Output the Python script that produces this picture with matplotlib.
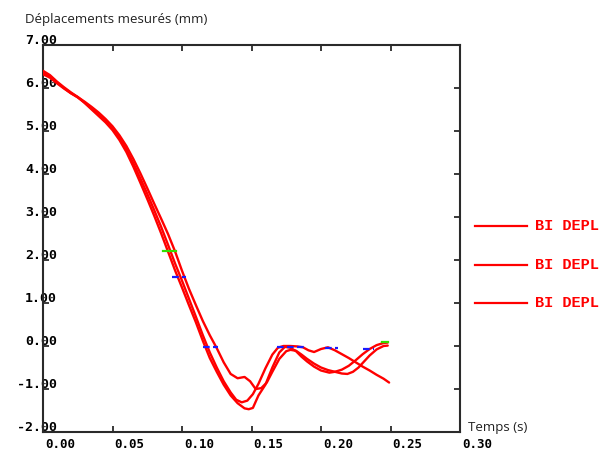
import matplotlib
matplotlib.use("Agg")
import matplotlib.pyplot as plt
from matplotlib.transforms import ScaledTranslation
from matplotlib.lines import Line2D
from matplotlib.ticker import FuncFormatter

# ---------------- data ----------------
title_text = "Déplacements mesurés (mm)"
xlabel_text = "Temps (s)"
legend_labels = ["BI DEPL", "BI DEPL", "BI DEPL"]

a_t = [0, .005, .01, .015, .02, .025, .03, .035, .04, .045, .05, .055, .06, .065, .07, .075,
       .08, .085, .09, .095, .10, .105, .11, .115, .12, .125, .13, .135, .14, .145, .148, .151,
       .155, .16, .165, .17, .174, .178, .182, .186, .19, .195, .2, .206, .21, .215, .22, .225,
       .23, .235, .24, .245, .248]
a_v = [6.40, 6.30, 6.15, 6.02, 5.90, 5.79, 5.65, 5.50, 5.35, 5.20, 5.02, 4.79, 4.51, 4.17, 3.80,
       3.42, 3.03, 2.62, 2.19, 1.76, 1.36, 0.95, 0.55, 0.12, -0.28, -0.6, -0.9, -1.15, -1.33,
       -1.45, -1.47, -1.44, -1.15, -0.9, -0.5, -0.15, -0.02, -0.04, -0.12, -0.25, -0.36, -0.48,
       -0.57, -0.62, -0.6, -0.55, -0.46, -0.33, -0.19, -0.07, 0.02, 0.07, 0.08]

b_t = [0, .005, .01, .015, .02, .025, .03, .035, .04, .045, .05, .055, .06, .065, .07, .075,
       .08, .085, .09, .095, .10, .105, .11, .115, .12, .125, .13, .135, .139, .143, .147, .151,
       .155, .16, .165, .169, .173, .178, .183, .187, .191, .195, .2, .205, .21, .215, .22, .225,
       .23, .235, .24, .245, .249]
b_v = [6.36, 6.27, 6.13, 6.00, 5.88, 5.78, 5.66, 5.52, 5.38, 5.23, 5.06, 4.84, 4.57, 4.25, 3.90,
       3.54, 3.16, 2.77, 2.35, 1.92, 1.52, 1.10, 0.68, 0.25, -0.15, -0.5, -0.82, -1.08, -1.25,
       -1.31, -1.27, -1.12, -0.88, -0.52, -0.2, -0.04, 0.0, 0.0, -0.01, -0.03, -0.1, -0.14,
       -0.07, -0.03, -0.1, -0.19, -0.28, -0.38, -0.48, -0.57, -0.67, -0.76, -0.85]

c_t = [0, .005, .01, .015, .02, .025, .03, .035, .04, .045, .05, .055, .06, .065, .07, .075,
       .08, .085, .09, .095, .1, .105, .11, .115, .12, .125, .13, .135, .14, .145, .149, .153,
       .157, .161, .165, .17, .175, .178, .182, .186, .19, .195, .2, .205, .21, .215, .219,
       .223, .227, .231, .235, .24, .245, .248]
c_v = [6.32, 6.24, 6.11, 5.99, 5.88, 5.79, 5.68, 5.56, 5.43, 5.28, 5.11, 4.90, 4.65, 4.35, 4.02,
       3.67, 3.31, 2.96, 2.6, 2.2, 1.75, 1.33, 0.95, 0.58, 0.25, -0.05, -0.38, -0.65, -0.75,
       -0.72, -0.82, -1.0, -0.98, -0.85, -0.6, -0.3, -0.12, -0.09, -0.11, -0.2, -0.3, -0.41,
       -0.5, -0.56, -0.6, -0.64, -0.65, -0.6, -0.5, -0.36, -0.22, -0.08, 0.0, 0.01]

# small marker dashes seen on the chart: (t_start, t_end, value)
blue_marks = [(0.0926, 0.1026, 1.61), (0.1150, 0.1260, -0.02), (0.1680, 0.1900, -0.02),
              (0.2030, 0.2120, -0.04), (0.2300, 0.2380, -0.06)]
green_marks = [(0.0860, 0.0960, 2.22), (0.2440, 0.2480, 0.10)]

x_ticks = [0.0, 0.05, 0.10, 0.15, 0.20, 0.25, 0.30]
y_ticks = [-2, -1, 0, 1, 2, 3, 4, 5, 6, 7]

# ---------------- figure ----------------
W, H = 610, 450
fig = plt.figure(figsize=(W / 100, H / 100), dpi=100)
L, R, T, B = 43, 460, 45, 432
ax = fig.add_axes([L / W, 1 - B / H, (R - L) / W, (B - T) / H])

red = "#ff0000"
for tt, vv in ((a_t, a_v), (b_t, b_v), (c_t, c_v)):
    ax.plot(tt, vv, color=red, lw=1.7, solid_capstyle="round", zorder=3)

for t0, t1, v in blue_marks:
    ax.plot([t0, t1], [v, v], color="#1a1aff", lw=1.6, ls=(0, (3, 1.5)), zorder=4)
for t0, t1, v in green_marks:
    ax.plot([t0, t1], [v, v], color="#33dd00", lw=1.6, zorder=4)

ax.set_xlim(0, 0.30)
ax.set_ylim(-2, 7)
ax.set_xticks(x_ticks)
ax.set_yticks(y_ticks)
ax.xaxis.set_major_formatter(FuncFormatter(lambda v, p: "%.2f" % v))
ax.yaxis.set_major_formatter(FuncFormatter(lambda v, p: "%.2f" % v))

for s in ax.spines.values():
    s.set_color("#2a2a2a")
    s.set_linewidth(1.5)

ax.tick_params(axis="both", direction="in", length=4, width=1.3, color="#2a2a2a",
               top=True, right=True, left=True, bottom=True, pad=0)
for lab in ax.get_yticklabels():
    lab.set_fontfamily("DejaVu Sans Mono")
    lab.set_fontweight("bold")
    lab.set_fontsize(9.5)
    lab.set_horizontalalignment("right")
    lab.set_verticalalignment("baseline")
    lab.set_transform(lab.get_transform() + ScaledTranslation(14 / 100, 1 / 100, fig.dpi_scale_trans))
for lab in ax.get_xticklabels():
    lab.set_fontfamily("DejaVu Sans Mono")
    lab.set_fontweight("bold")
    lab.set_fontsize(9)
    lab.set_horizontalalignment("left")
    lab.set_verticalalignment("top")
    lab.set_transform(lab.get_transform() + ScaledTranslation(2 / 100, -6 / 100, fig.dpi_scale_trans))

# title and axis label
fig.text(25 / W, 1 - 19 / H, title_text, fontsize=9.5, family="Open Sans",
         color="#222222", ha="left", va="center")
fig.text(468 / W, 1 - 428 / H, xlabel_text, fontsize=9.5, family="Open Sans",
         color="#222222", ha="left", va="center")

# legend
leg_y = [226, 265, 303]
for y, lbl in zip(leg_y, legend_labels):
    fig.add_artist(Line2D([475 / W, 527 / W], [1 - y / H, 1 - y / H],
                          transform=fig.transFigure, color=red, lw=1.6))
    fig.text(535 / W, 1 - y / H, lbl, color=red, fontsize=11,
             family="Liberation Mono", weight="bold", ha="left", va="center")

fig.savefig("out.png", dpi=100)
